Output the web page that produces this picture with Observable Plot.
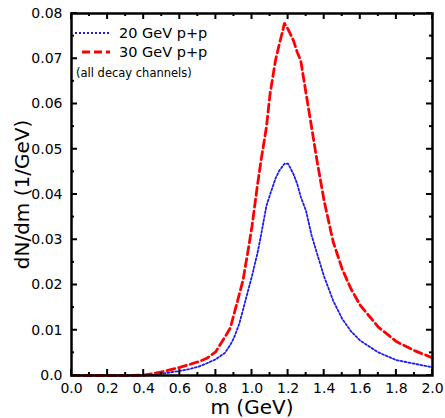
<!DOCTYPE html>
<html>
<head>
<meta charset="utf-8">
<script src="https://cdn.jsdelivr.net/npm/d3@7"></script>
<script src="https://cdn.jsdelivr.net/npm/@observablehq/plot@0.6"></script>
<style>
  html, body { margin: 0; padding: 0; background: #fff; }
  #wrap { position: relative; width: 445px; height: 418px; background: #fff; }
  #overlay { position: absolute; left: 0; top: 0; pointer-events: none; }
</style>
</head>
<body>
<div id="wrap"></div>
<script>
// ---- data ----
const mass = [0, 0.1, 0.2, 0.3, 0.4, 0.45, 0.5, 0.55, 0.6, 0.65, 0.7, 0.75, 0.8, 0.85, 0.88, 0.9, 0.93, 0.95, 0.98, 1.0, 1.03, 1.05, 1.08, 1.1, 1.13, 1.15, 1.18, 1.2, 1.23, 1.25, 1.27, 1.3, 1.33, 1.36, 1.4, 1.45, 1.5, 1.55, 1.6, 1.7, 1.8, 1.9, 2.0];
const dndm30 = [0, 0, 0, 0, 0.0001, 0.0004, 0.0008, 0.0013, 0.0018, 0.0024, 0.003, 0.0038, 0.0053, 0.0085, 0.0105, 0.0135, 0.018, 0.021, 0.028, 0.033, 0.042, 0.0475, 0.0549, 0.0622, 0.0696, 0.073, 0.0778, 0.0765, 0.074, 0.0715, 0.0696, 0.0622, 0.0549, 0.0475, 0.0385, 0.0295, 0.0235, 0.019, 0.0155, 0.0107, 0.0075, 0.0055, 0.0039];
const dndm20 = [0, 0, 0, 0, 0, 0.0001, 0.0004, 0.0007, 0.001, 0.0014, 0.0019, 0.0027, 0.0036, 0.005, 0.0068, 0.0083, 0.0115, 0.0145, 0.019, 0.022, 0.027, 0.031, 0.0375, 0.040, 0.0435, 0.0452, 0.0468, 0.0468, 0.0445, 0.0424, 0.0395, 0.0363, 0.031, 0.027, 0.0218, 0.0165, 0.0125, 0.0097, 0.0077, 0.0051, 0.0034, 0.0026, 0.0018];
const seriesNames = ["20 GeV p+p", "30 GeV p+p"];
const noteText = "(all decay channels)";
const xMajor = [0, 0.2, 0.4, 0.6, 0.8, 1.0, 1.2, 1.4, 1.6, 1.8, 2.0];
const xMinor = [0.1, 0.3, 0.5, 0.7, 0.9, 1.1, 1.3, 1.5, 1.7, 1.9];
const yMajor = [0, 0.01, 0.02, 0.03, 0.04, 0.05, 0.06, 0.07, 0.08];
const yMinor = [0.005, 0.015, 0.025, 0.035, 0.045, 0.055, 0.065, 0.075];
const xTitle = "m (GeV)";
const yTitle = "dN/dm (1/GeV)";

const d20 = mass.map((m, i) => ({m, v: dndm20[i]}));
const d30 = mass.map((m, i) => ({m, v: dndm30[i]}));

// layout
const W = 445, H = 418, ML = 71, MR = 13, MT = 13, MB = 43;
const FONT = "DejaVu Sans, sans-serif";

const RED = "#ff0000", BLUE = "#1c1cf0";
const BLUE_DASH = "2,2", RED_DASH = "8,4";
const xFmt = d => d.toFixed(1);
const yFmt = d => d === 0 ? "0.0" : d3.format(".2f")(d);

const chart = Plot.plot({
  width: W, height: H,
  marginLeft: ML, marginRight: MR, marginTop: MT, marginBottom: MB,
  x: {domain: [0, 2]},
  y: {domain: [0, 0.08]},
  marks: [
    Plot.line(d20, {x: "m", y: "v", stroke: BLUE, strokeWidth: 1.8, strokeDasharray: BLUE_DASH}),
    Plot.line(d30, {x: "m", y: "v", stroke: RED, strokeWidth: 2.8, strokeDasharray: RED_DASH}),
    Plot.axisX({anchor: "bottom", ticks: xMajor, tickSize: 0, tickPadding: 8, tickFormat: xFmt, label: null, fontSize: 14, fontFamily: FONT}),
    Plot.axisY({anchor: "left", ticks: yMajor, tickSize: 0, tickPadding: 9, tickFormat: yFmt, label: null, fontSize: 14, fontFamily: FONT}),
    Plot.text([xTitle], {frameAnchor: "bottom", dy: 32, lineAnchor: "middle", fontSize: 20, fontFamily: FONT, fill: "black"}),
    Plot.text([yTitle], {frameAnchor: "left", dx: -49, rotate: -90, textAnchor: "middle", lineAnchor: "middle", fontSize: 20, fontFamily: FONT, fill: "black"}),
    Plot.frame({strokeWidth: 2.5})
  ]
});

const wrap = document.getElementById("wrap");
wrap.appendChild(chart);

// overlay: inward ticks (positioned with the chart's own scales) and the legend
const ns = "http://www.w3.org/2000/svg";
const ov = document.createElementNS(ns, "svg");
ov.setAttribute("id", "overlay");
ov.setAttribute("width", W);
ov.setAttribute("height", H);
function addLine(x1, y1, x2, y2, color, w, dash) {
  const ln = document.createElementNS(ns, "line");
  ln.setAttribute("x1", x1); ln.setAttribute("y1", y1);
  ln.setAttribute("x2", x2); ln.setAttribute("y2", y2);
  ln.setAttribute("stroke", color); ln.setAttribute("stroke-width", w);
  if (dash) ln.setAttribute("stroke-dasharray", dash);
  ov.appendChild(ln);
}
const sx = chart.scale("x"), sy = chart.scale("y");
const xL = sx.apply(sx.domain[0]), xR = sx.apply(sx.domain[1]);
const yB = sy.apply(sy.domain[0]), yT = sy.apply(sy.domain[1]);
const tickSets = [[xMajor, yMajor, 6], [xMinor, yMinor, 3]];
for (const [xs, ys, len] of tickSets) {
  for (const v of xs) {
    const px = sx.apply(v);
    addLine(px, yB, px, yB - len, "black", 2);
    addLine(px, yT, px, yT + len, "black", 2);
  }
  for (const v of ys) {
    const py = sy.apply(v);
    addLine(xL, py, xL + len, py, "black", 2);
    addLine(xR, py, xR - len, py, "black", 2);
  }
}
const items = [
  {name: seriesNames[0], color: BLUE, dash: BLUE_DASH, w: 1.8, x1: 75, y: 33},
  {name: seriesNames[1], color: RED, dash: RED_DASH, w: 2.8, x1: 82, y: 52}
];
for (const it of items) {
  addLine(it.x1, it.y, 110, it.y, it.color, it.w, it.dash);
  const t = document.createElementNS(ns, "text");
  t.setAttribute("x", 119); t.setAttribute("y", it.y);
  t.setAttribute("dy", "0.36em");
  t.setAttribute("font-size", 14.5);
  t.setAttribute("font-family", FONT);
  t.textContent = it.name;
  ov.appendChild(t);
}
const note = document.createElementNS(ns, "text");
note.setAttribute("x", 76); note.setAttribute("y", 73);
note.setAttribute("dy", "0.36em");
note.setAttribute("font-size", 11.5);
note.setAttribute("font-family", FONT);
note.textContent = noteText;
ov.appendChild(note);
wrap.appendChild(ov);
</script>
</body>
</html>
